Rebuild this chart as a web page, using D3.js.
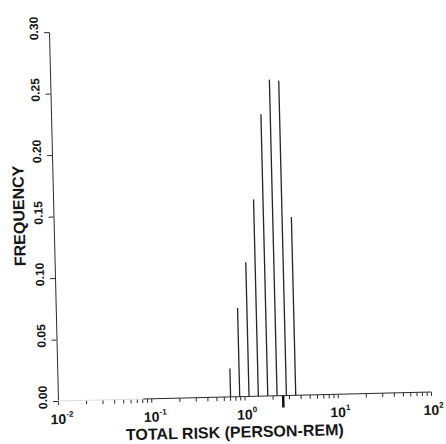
<!DOCTYPE html>
<html>
  <head>
    <meta charset="utf-8">
    <title>Total risk histogram</title>
    <style>
      body {
        margin: 0;
        background: #fff;
      }
      svg text {
        font-family: "Liberation Sans", Arial, sans-serif;
        font-weight: bold;
        fill: #161616;
      }
      .axis path, .axis line {
        stroke: #2a2a2a;
        stroke-width: 1;
      }
      .bar {
        stroke: #262626;
        stroke-width: 1.3;
      }
    </style>
  </head>
  <body>
    <svg width="446" height="444"></svg>
    <script src="https://cdn.jsdelivr.net/npm/d3@7"></script>
    <script>
      // Bin centres (person-rem) and frequency of each bin.
      var riskBins = [0.71, 0.89, 1.12, 1.41, 1.78, 2.24, 2.82, 3.55];
      var frequency = [0.023, 0.072, 0.109, 0.160, 0.229, 0.257, 0.256, 0.145];
      // Axis ticks.
      var decadeTicks = [0.01, 0.1, 1, 10, 100];
      var decadeExponents = ["-2", "-1", "0", "1", "2"];
      var freqTicks = [0, 0.05, 0.10, 0.15, 0.20, 0.25, 0.30];
      // Heavy tick under the axis.
      var markerRisk = 2.6;

      var svg = d3.select("svg");
      var x0 = 58, y0 = 401;

      var x = d3.scaleLog().domain([0.01, 100]).range([x0, x0 + 373]);
      var y = d3.scaleLinear().domain([0, 0.3]).range([y0, 32]);

      // The scanned figure is slightly rotated.
      var g = svg.append("g").attr("transform", `rotate(-1.4, ${x0}, ${y0})`);

      // Y axis.
      var yAxis = g.append("g")
          .attr("class", "axis")
          .attr("transform", `translate(${x0},0)`)
          .call(d3.axisLeft(y).tickValues(freqTicks).tickSize(5).tickSizeOuter(0).tickFormat(""));
      g.append("g")
        .selectAll("text")
        .data(freqTicks)
        .enter()
        .append("text")
        .attr("transform", d => `translate(${x0 - 11},${y(d) - 4}) rotate(-90)`)
        .attr("text-anchor", "middle")
        .style("font-size", "12px")
        .text(d => d3.format(".2f")(d));

      // X axis: minor ticks everywhere, line only from 10^-1.
      var xAxis = g.append("g")
          .attr("class", "axis")
          .attr("transform", `translate(0,${y0})`)
          .call(d3.axisBottom(x).tickValues(x.ticks()).tickSize(4).tickSizeOuter(0).tickFormat(""));
      xAxis.select(".domain").remove();
      g.append("line")
        .attr("x1", x(0.1) - 8).attr("x2", x(100))
        .attr("y1", y0).attr("y2", y0)
        .attr("stroke", "#2a2a2a");
      g.append("line")
        .attr("x1", x0).attr("x2", x(0.1) - 8)
        .attr("y1", y0).attr("y2", y0)
        .attr("stroke", "#ddd");

      var decLabels = g.append("g").selectAll("g")
        .data(decadeTicks)
        .enter()
        .append("g")
        .attr("transform", d => `translate(${x(d)},${y0 + 23})`);
      decLabels.append("text")
        .attr("text-anchor", "middle")
        .style("font-size", "14px")
        .text("10");
      decLabels.append("text")
        .attr("x", 8)
        .attr("y", -7)
        .style("font-size", "8px")
        .text((d, i) => decadeExponents[i]);

      g.append("line")
        .attr("x1", x(markerRisk)).attr("x2", x(markerRisk))
        .attr("y1", y0).attr("y2", y0 + 12)
        .attr("stroke", "#111")
        .attr("stroke-width", 2.5);

      // Bars drawn as spikes.
      g.append("g")
        .selectAll("line")
        .data(riskBins)
        .enter()
        .append("line")
        .attr("class", "bar")
        .attr("x1", d => x(d)).attr("x2", d => x(d))
        .attr("y1", y(0))
        .attr("y2", (d, i) => y(frequency[i]));

      // Titles.
      g.append("text")
        .attr("x", x0 + 176)
        .attr("y", y0 + 41)
        .attr("text-anchor", "middle")
        .style("font-size", "16px")
        .text("TOTAL RISK (PERSON-REM)");
      g.append("text")
        .attr("transform", `translate(29,215) rotate(-90)`)
        .attr("text-anchor", "middle")
        .style("font-size", "16px")
        .text("FREQUENCY");
    </script>
  </body>
</html>
